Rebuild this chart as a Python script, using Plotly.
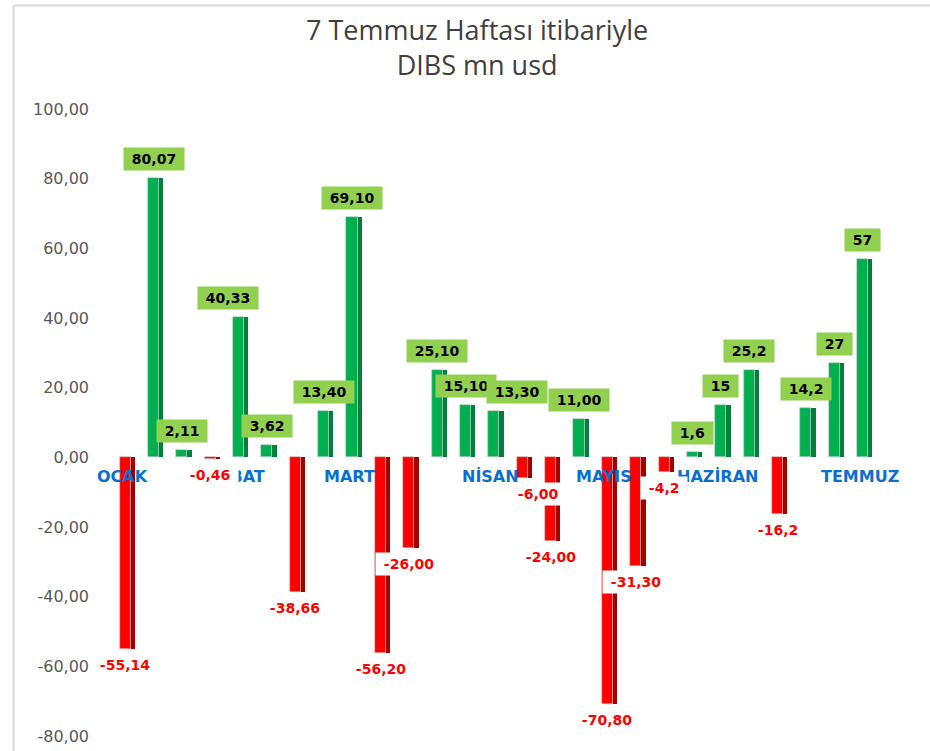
import plotly.graph_objects as go

# ---- data ----
values = [-55.14, 80.07, 2.11, -0.46, 40.33, 3.62, -38.66, 13.40, 69.10, -56.20,
          -26.00, 25.10, 15.10, 13.30, -6.00, -24.00, 11.00, -70.80, -31.30, -4.2,
          1.6, 15, 25.2, -16.2, 14.2, 27, 57]
value_labels = ["-55,14", "80,07", "2,11", "-0,46", "40,33", "3,62", "-38,66", "13,40",
                "69,10", "-56,20", "-26,00", "25,10", "15,10", "13,30", "-6,00", "-24,00",
                "11,00", "-70,80", "-31,30", "-4,2", "1,6", "15", "25,2", "-16,2",
                "14,2", "27", "57"]
months = ["OCAK", "ŞUBAT", "MART", "NİSAN", "MAYIS", "HAZİRAN", "TEMMUZ"]
month_week_index = [0, 4, 8, 13, 17, 21, 26]
y_tick_vals = [-80, -60, -40, -20, 0, 20, 40, 60, 80, 100]
y_tick_text = ["-80,00", "-60,00", "-40,00", "-20,00", "0,00",
               "20,00", "40,00", "60,00", "80,00", "100,00"]
title_lines = ["7 Temmuz Haftası itibariyle", "DIBS mn usd"]

weeks = list(range(len(values)))

# ---- styles ----
GREEN, GREEN_SIDE = "#00B050", "#00803A"
RED, RED_SIDE = "#FF0000", "#A30000"
face_colors = [GREEN if v >= 0 else RED for v in values]
side_colors = [GREEN_SIDE if v >= 0 else RED_SIDE for v in values]
label_xshift = {4: -11, 13: 23, 14: 16}

fig = go.Figure()
fig.add_trace(go.Bar(x=weeks, y=values, width=0.39, offset=-0.2,
                     marker=dict(color=face_colors, line=dict(color="#C8C8C8", width=0.6)),
                     hoverinfo="y", showlegend=False))
fig.add_trace(go.Bar(x=weeks, y=values, width=0.15, offset=0.19,
                     marker=dict(color=side_colors, line=dict(width=0)),
                     hoverinfo="skip", showlegend=False))

annotations = []
# title (two lines, one text block)
annotations.append(dict(x=0.4778, y=1.0983, xref="paper", yref="paper",
                        text="<br>".join(title_lines), showarrow=False,
                        xanchor="center", yanchor="middle",
                        font=dict(family="Open Sans", size=27, color="#404040")))
for m, i in zip(months, month_week_index):
    annotations.append(dict(x=i - 0.11, y=0, xref="x", yref="y", text=m, showarrow=False,
                            yshift=-19, font=dict(family="DejaVu Sans", size=16,
                                                  color="#0B6FCF", weight="bold")))
for i, (v, t) in enumerate(zip(values, value_labels)):
    pos = v >= 0
    annotations.append(dict(
        x=i, y=v, xref="x", yref="y", text="\u00a0" + t + "\u00a0", showarrow=False,
        yshift=19 if pos else -16, xshift=label_xshift.get(i, 0),
        bgcolor="#92D050" if pos else "white", borderpad=3,
        font=dict(family="DejaVu Sans", size=14, weight="bold",
                  color="black" if pos else "#FF0000")))

# chart frame (top and left edges visible)
shapes = [
    dict(type="line", xref="paper", yref="paper", x0=-0.1273, x1=1.1, y0=1.165, y1=1.165,
         line=dict(color="#D9D9D9", width=2)),
    dict(type="line", xref="paper", yref="paper", x0=-0.1273, x1=-0.1273, y0=1.165, y1=-0.05,
         line=dict(color="#D9D9D9", width=2)),
]

fig.update_layout(
    width=930, height=751,
    margin=dict(l=111, r=53, t=109, b=15, autoexpand=False),
    paper_bgcolor="white", plot_bgcolor="white",
    barmode="overlay", bargap=0,
    xaxis=dict(range=[-0.5, 26.5], showticklabels=False, showgrid=False,
               zeroline=False, showline=False, ticks="", automargin=False),
    yaxis=dict(range=[-80, 100], tickvals=y_tick_vals, ticktext=y_tick_text,
               showgrid=False, zeroline=False, showline=False, ticks="",
               ticklabelstandoff=21, automargin=False,
               tickfont=dict(family="DejaVu Sans", size=16, color="#595959")),
    annotations=annotations, shapes=shapes,
)

fig.write_html("out.html", config={"displayModeBar": False},
               post_script="document.body.style.margin='0px';")
